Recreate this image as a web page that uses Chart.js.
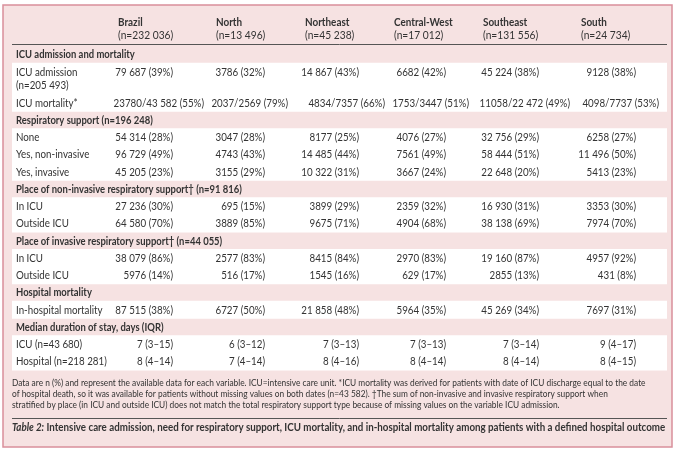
<!DOCTYPE html>
<html>
<head>
<meta charset="utf-8">
<script src="https://cdn.jsdelivr.net/npm/chart.js@4.4.1/dist/chart.umd.min.js"></script>
<style>
  html, body { margin: 0; padding: 0; background: #ffffff; }
  #wrap { width: 680px; height: 457px; }
</style>
</head>
<body>
<div id="wrap"><canvas id="tableChart" width="680" height="457"></canvas></div>
<script>
// columns
const regions = ["Brazil", "North", "Northeast", "Central-West", "Southeast", "South"];
const regionTotals = [232036, 13496, 45238, 17012, 131556, 24734];

const sectionTitles = [
  "ICU admission and mortality",
  "Respiratory support (n=196 248)",
  "Place of non-invasive respiratory support\u2020 (n=91 816)",
  "Place of invasive respiratory support\u2020 (n=44 055)",
  "Hospital mortality",
  "Median duration of stay, days (IQR)"
];

// ICU admission and mortality
const icuAdmission = [79687, 3786, 14867, 6682, 45224, 9128];
const icuAdmissionPct = [39, 32, 43, 42, 38, 38];
const icuDeaths = [23780, 2037, 4834, 1753, 11058, 4098];
const icuDeathsBase = [43582, 2569, 7357, 3447, 22472, 7737];
const icuMortalityPct = [55, 79, 66, 51, 49, 53];

// respiratory support
const respNone = [54314, 3047, 8177, 4076, 32756, 6258];
const respNonePct = [28, 28, 25, 27, 29, 27];
const respNonInvasive = [96729, 4743, 14485, 7561, 58444, 11496];
const respNonInvasivePct = [49, 43, 44, 49, 51, 50];
const respInvasive = [45205, 3155, 10322, 3667, 22648, 5413];
const respInvasivePct = [23, 29, 31, 24, 20, 23];

// place of non-invasive support
const nivInIcu = [27236, 695, 3899, 2359, 16930, 3353];
const nivInIcuPct = [30, 15, 29, 32, 31, 30];
const nivOutIcu = [64580, 3889, 9675, 4904, 38138, 7974];
const nivOutIcuPct = [70, 85, 71, 68, 69, 70];

// place of invasive support
const ivInIcu = [38079, 2577, 8415, 2970, 19160, 4957];
const ivInIcuPct = [86, 83, 84, 83, 87, 92];
const ivOutIcu = [5976, 516, 1545, 629, 2855, 431];
const ivOutIcuPct = [14, 17, 16, 17, 13, 8];

// hospital mortality
const hospDeaths = [87515, 6727, 21858, 5964, 45269, 7697];
const hospDeathsPct = [38, 50, 48, 35, 34, 31];

// median stay (IQR)
const icuStayMedian = [7, 6, 7, 7, 7, 9];
const icuStayIqr = ["3\u201315", "3\u201312", "3\u201313", "3\u201313", "3\u201314", "4\u201317"];
const hospStayMedian = [8, 7, 8, 8, 8, 8];
const hospStayIqr = ["4\u201314", "4\u201314", "4\u201316", "4\u201314", "4\u201314", "4\u201315"];

const footnoteLines = [
  "Data are n (%) and represent the available data for each variable. ICU=intensive care unit. *ICU mortality was derived for patients with date of ICU discharge equal to the date",
  "of hospital death, so it was available for patients without missing values on both dates (n=43 582). \u2020The sum of non-invasive and invasive respiratory support when",
  "stratified by place (in ICU and outside ICU) does not match the total respiratory support type because of missing values on the variable ICU admission."
];
const captionLead = "Table 2:";
const captionText = " Intensive care admission, need for respiratory support, ICU mortality, and in-hospital mortality among patients with a defined hospital outcome";

// number with space grouping from 10 000 up
function fmt(n) {
  const s = String(n);
  if (n < 10000) return s;
  return s.replace(/\B(?=(\d{3})+(?!\d))/g, " ");
}
const pctCells = (ns, ps) => ns.map((n, i) => fmt(n) + " (" + ps[i] + "%)");

const tableRows = [
  { section: 0 },
  { label: ["ICU admission", "(n=205 493)"], cells: pctCells(icuAdmission, icuAdmissionPct) },
  { label: ["ICU mortality*"], wide: true,
    cells: icuDeaths.map((d, i) => d + "/" + fmt(icuDeathsBase[i]) + " (" + icuMortalityPct[i] + "%)") },
  { section: 1 },
  { label: ["None"], cells: pctCells(respNone, respNonePct) },
  { label: ["Yes, non-invasive"], cells: pctCells(respNonInvasive, respNonInvasivePct) },
  { label: ["Yes, invasive"], cells: pctCells(respInvasive, respInvasivePct) },
  { section: 2 },
  { label: ["In ICU"], cells: pctCells(nivInIcu, nivInIcuPct) },
  { label: ["Outside ICU"], cells: pctCells(nivOutIcu, nivOutIcuPct) },
  { section: 3 },
  { label: ["In ICU"], cells: pctCells(ivInIcu, ivInIcuPct) },
  { label: ["Outside ICU"], cells: pctCells(ivOutIcu, ivOutIcuPct) },
  { section: 4 },
  { label: ["In-hospital mortality"], cells: pctCells(hospDeaths, hospDeathsPct) },
  { section: 5 },
  { label: ["ICU (n=43 680)"], cells: icuStayMedian.map((m, i) => m + " (" + icuStayIqr[i] + ")") },
  { label: ["Hospital (n=218 281)"], cells: hospStayMedian.map((m, i) => m + " (" + hospStayIqr[i] + ")") }
];

// layout (in scale units)
const colLeft = [118, 216, 305, 394, 483, 581];
const colRight = [173, 265, 359, 446, 539, 636];
const colRightWide = [204, 288, 385, 469, 570, 659];
const FONT = "Lato, 'Open Sans', sans-serif";
const TEXT = "#333333";
const PINK = "#f6e2e2";
const BORDER = "#d98f9b";

function drawText(ctx, str, x, y, font, align, sx) {
  ctx.save();
  ctx.font = font;
  ctx.textAlign = align || "left";
  ctx.textBaseline = "middle";
  ctx.translate(x, y);
  ctx.scale(sx || 1, 1);
  ctx.fillText(str, 0, 0);
  ctx.restore();
}

const tablePlugin = {
  id: "tableDraw",
  afterDraw(chart) {
    const { ctx, scales: { x, y } } = chart;
    const px = v => x.getPixelForValue(v);
    const py = v => y.getPixelForValue(v);
    const reg = "10.5px " + FONT, bold = "bold 10.5px " + FONT;
    const sxR = 0.93, sxB = 0.9;

    ctx.save();
    ctx.fillStyle = PINK;
    ctx.fillRect(px(3), py(5), px(672) - px(3), py(447) - py(5));
    ctx.strokeStyle = BORDER;
    ctx.lineWidth = 1.5;
    ctx.strokeRect(px(3), py(5), px(672) - px(3), py(447) - py(5));

    ctx.fillStyle = TEXT;
    regions.forEach((r, i) => {
      drawText(ctx, r, px(colLeft[i]), py(22), "bold 11px " + FONT, "left", sxB);
      drawText(ctx, "(n=" + fmt(regionTotals[i]) + ")", px(colLeft[i]), py(35), "11px " + FONT, "left", sxR);
    });

    ctx.strokeStyle = "#555555";
    ctx.lineWidth = 1;
    ctx.beginPath();
    ctx.moveTo(px(12), Math.round(py(44)) + 0.5);
    ctx.lineTo(px(667), Math.round(py(44)) + 0.5);
    ctx.stroke();

    // rows: collect positions and white bands, then draw
    const step = 17.25;
    let cy = 55;
    const placed = [];
    let band = null;
    const bands = [];
    tableRows.forEach(row => {
      if (row.section !== undefined) {
        if (band) { bands.push(band); band = null; }
        placed.push({ row, y: cy });
        cy += step;
      } else {
        if (!band) band = { top: cy - 9.5, bottom: 0 };
        placed.push({ row, y: cy });
        const h = row.label.length > 1 ? 31 : step;
        band.bottom = cy + (row.label.length > 1 ? 22 : 8.5);
        cy += h;
      }
    });
    if (band) bands.push(band);

    ctx.fillStyle = "#ffffff";
    bands.forEach(b => ctx.fillRect(px(12), py(b.top), px(667) - px(12), py(b.bottom) - py(b.top)));

    ctx.fillStyle = TEXT;
    placed.forEach(({ row, y: ry }) => {
      if (row.section !== undefined) {
        drawText(ctx, sectionTitles[row.section], px(16), py(ry), bold, "left", sxB);
        return;
      }
      row.label.forEach((l, k) => drawText(ctx, l, px(16), py(ry + k * 13.5), reg, "left", sxR));
      row.cells.forEach((c, i) => {
        const xr = row.wide ? colRightWide[i] : colRight[i];
        drawText(ctx, c, px(xr), py(ry), reg, "right", sxR);
      });
    });

    // footnote
    const small = "9px " + FONT;
    footnoteLines.forEach((l, k) => drawText(ctx, l, px(12), py(383 + k * 11), small, "left", 0.928));

    ctx.strokeStyle = "#555555";
    ctx.beginPath();
    ctx.moveTo(px(12), Math.round(py(418)) + 0.5);
    ctx.lineTo(px(667), Math.round(py(418)) + 0.5);
    ctx.stroke();

    const sxC = 0.93;
    const capLead = "italic bold 10.5px " + FONT;
    ctx.font = capLead;
    const leadW = ctx.measureText(captionLead).width * sxC;
    drawText(ctx, captionLead, px(12), py(428), capLead, "left", sxC);
    drawText(ctx, captionText, px(12) + leadW, py(428), bold, "left", sxC);
    ctx.restore();
  }
};

const tableChart = new Chart(document.getElementById("tableChart"), {
  type: "scatter",
  data: { datasets: [] },
  options: {
    responsive: false,
    animation: false,
    devicePixelRatio: 1,
    layout: { padding: 0 },
    plugins: { legend: { display: false }, tooltip: { enabled: false } },
    scales: {
      x: { type: "linear", min: 0, max: 680, display: false },
      y: { type: "linear", min: 0, max: 457, reverse: true, display: false }
    }
  },
  plugins: [tablePlugin]
});
</script>
</body>
</html>
